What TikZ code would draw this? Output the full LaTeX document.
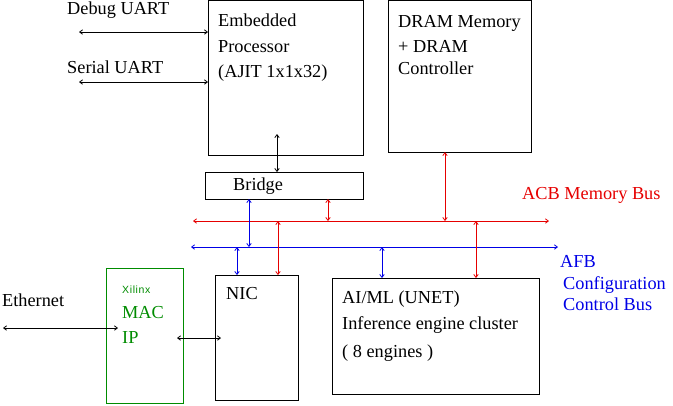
\documentclass[tikz,border=0pt]{standalone}
\usepackage{fontspec}
\setmainfont{Liberation Serif}
\newfontfamily\xsans[LetterSpace=6]{Liberation Sans}
\usetikzlibrary{arrows.meta}
\definecolor{figred}{RGB}{230,0,0}
\definecolor{figblue}{RGB}{0,0,230}
\definecolor{figgreen}{RGB}{0,140,0}
\begin{document}
\begin{tikzpicture}[x=1pt,y=-1pt,
  box/.style={draw,line width=0.9pt,inner sep=0pt,outer sep=0pt,anchor=north west},
  lbl/.style={anchor=base west,inner sep=0pt,font=\fontsize{18.3}{20}\selectfont},
  conn/.style={line width=0.8pt,{Straight Barb[length=3pt,width=4.5pt]}-{Straight Barb[length=3pt,width=4.5pt]}}]
\useasboundingbox (0,0) rectangle (673,405);
% boxes
\node[box,minimum width=155pt,minimum height=154.5pt] (proc) at (208,0.5) {};
\node[box,minimum width=143pt,minimum height=151.5pt] (dram) at (388,0.5) {};
\node[box,minimum width=158pt,minimum height=27pt] (bridge) at (205,172) {};
\node[box,minimum width=83pt,minimum height=125pt] (nic) at (215,275) {};
\node[box,minimum width=207pt,minimum height=116pt] (ai) at (332,278) {};
\node[box,draw=figgreen,minimum width=77pt,minimum height=135.5pt] (mac) at (106,268) {};
% texts
\node[lbl] (t-debug) at (67,14) {Debug UART};
\node[lbl] (t-serial) at (67,73) {Serial UART};
\node[lbl] (t-emb) at (218,26) {Embedded};
\node[lbl] (t-procr) at (218,52) {Processor};
\node[lbl] (t-ajit) at (218,77) {(AJIT 1x1x32)};
\node[lbl] (t-dram1) at (398,27) {DRAM Memory};
\node[lbl] (t-dram2) at (398,52) {+ DRAM};
\node[lbl] (t-dram3) at (398,74) {Controller};
\node[lbl] (t-bridge) at (233,190) {Bridge};
\node[lbl,text=figred] (t-acb) at (522,199) {ACB Memory Bus};
\node[lbl,text=figblue] (t-afb1) at (560,267) {AFB};
\node[lbl,text=figblue] (t-afb2) at (563,289) {Configuration};
\node[lbl,text=figblue] (t-afb3) at (563,310) {Control Bus};
\node[lbl] (t-ai1) at (342,303) {AI/ML (UNET)};
\node[lbl] (t-ai2) at (342,329) {Inference engine cluster};
\node[lbl] (t-ai3) at (342,357) {( 8 engines )};
\node[lbl] (t-nic) at (226,299) {NIC};
\node[lbl] (t-eth) at (2,306) {Ethernet};
\node[lbl,text=figgreen,font=\xsans\fontsize{10.5}{12}\selectfont] (t-xil) at (122,293) {Xilinx};
\node[lbl,text=figgreen] (t-mac) at (122,318) {MAC};
\node[lbl,text=figgreen] (t-ip) at (122,343) {IP};
% coordinates
\coordinate (dbg) at (79,32);
\coordinate (ser) at (79,82);
\coordinate (pb) at (277,134);
\coordinate (acbL) at (193,221);
\coordinate (acbR) at (549,221);
\coordinate (afbL) at (191,247);
\coordinate (afbR) at (558,247);
\coordinate (b1) at (249,247);
\coordinate (r1) at (328,221);
\coordinate (r2) at (445,221);
\coordinate (r3) at (278,221);
\coordinate (r4) at (476,221);
\coordinate (b2) at (237,247);
\coordinate (b3) at (382,247);
\coordinate (ethL) at (3,328);
\coordinate (ethR) at (118,328);
\coordinate (mnL) at (177,338);
\coordinate (mnR) at (221,338);
% connectors
\draw[conn] (dbg) -- (proc.west |- dbg);
\draw[conn] (ser) -- (proc.west |- ser);
\draw[conn] (pb) -- (bridge.north -| pb);
\draw[conn,figred] (acbL) -- (acbR);
\draw[conn,figblue] (afbL) -- (afbR);
\draw[conn,figblue] (bridge.south -| b1) -- (b1);
\draw[conn,figred] (bridge.south -| r1) -- (r1);
\draw[conn,figred] (dram.south -| r2) -- (r2);
\draw[conn,figred] (r3) -- (nic.north -| r3);
\draw[conn,figred] (r4) -- (ai.north -| r4);
\draw[conn,figblue] (b2) -- (nic.north -| b2);
\draw[conn,figblue] (b3) -- (ai.north -| b3);
\draw[conn] (ethL) -- (ethR);
\draw[conn] (mnL) -- (mnR);
\end{tikzpicture}
\end{document}
